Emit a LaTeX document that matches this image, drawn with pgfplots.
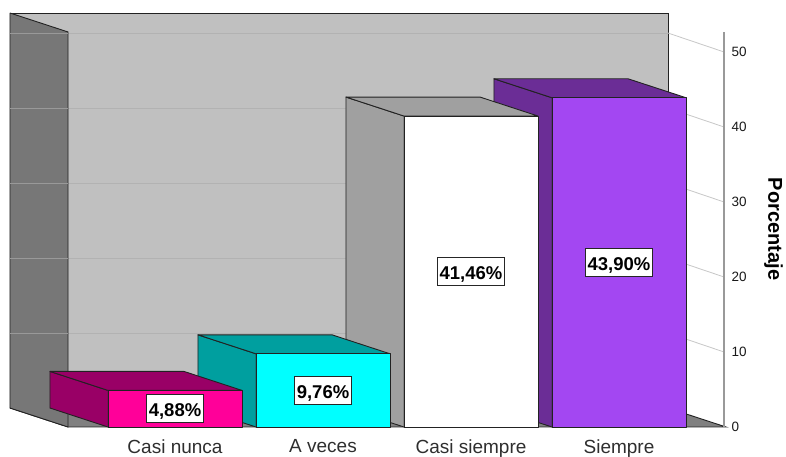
\documentclass[border=0pt]{standalone}
\usepackage{pgfplots}
\pgfplotsset{compat=1.18}
\usepackage{fontspec}
\setmainfont{Liberation Sans}
\definecolor{backwall}{HTML}{C0C0C0}
\definecolor{leftwall}{HTML}{777777}
\definecolor{floorc}{HTML}{808080}
\definecolor{edgec}{HTML}{222222}
\definecolor{pinkF}{HTML}{FF0099}
\definecolor{pinkS}{HTML}{990066}
\definecolor{cyanF}{HTML}{00FFFF}
\definecolor{cyanS}{HTML}{009F9F}
\definecolor{whiteF}{HTML}{FFFFFF}
\definecolor{whiteS}{HTML}{A0A0A0}
\definecolor{purpF}{HTML}{A347F2}
\definecolor{purpS}{HTML}{6B2D96}
\newcommand{\hw}{0.453}
\newcommand{\ddx}{0.392}
\newcommand{\ddy}{2.53}
\newcommand{\threedbar}[4]{%
  \pgfmathsetmacro\xl{#1-\hw}%
  \pgfmathsetmacro\xr{#1+\hw}%
  \pgfmathsetmacro\xlb{#1-\hw-\ddx}%
  \pgfmathsetmacro\xrb{#1+\hw-\ddx}%
  \pgfmathsetmacro\vt{#2+\ddy}%
  \addplot[fill=#4, draw=edgec, line width=0.9pt, line join=round] coordinates {(\xl,0) (\xl,#2) (\xlb,\vt) (\xlb,\ddy) (\xl,0)};
  \addplot[fill=#4, draw=edgec, line width=0.9pt, line join=round] coordinates {(\xl,#2) (\xr,#2) (\xrb,\vt) (\xlb,\vt) (\xl,#2)};
  \addplot[fill=#3, draw=edgec, line width=0.9pt, line join=round] coordinates {(\xl,0) (\xr,0) (\xr,#2) (\xl,#2) (\xl,0)};
}
\begin{document}
\begin{tikzpicture}
\useasboundingbox (0,0) rectangle (786pt,457pt);
\begin{axis}[
  at={(10pt,30pt)}, anchor=south west,
  scale only axis, width=716pt, height=414pt,
  xmin=-1.115, xmax=3.723, ymin=0, ymax=55.2,
  clip=false,
  axis x line*=bottom, axis y line*=right,
  x axis line style={draw=none}, y axis line style={draw=none},
  major tick length=0pt,
  xtick={0,1,2,3},
  xticklabels={Casi nunca, A veces, Casi siempre, Siempre},
  xticklabel style={font=\fontsize{19}{22}\selectfont, text=black!82, yshift=-9pt},
  ytick={0,10,20,30,40,50},
  yticklabel style={font=\fontsize{13.5}{15}\selectfont, text=black!90, xshift=2pt},
  /pgf/number format/assume math mode=true,
]
% back wall
\addplot[fill=backwall, draw=edgec, line width=0.9pt] coordinates {(-1.115,2.53) (3.331,2.53) (3.331,55.2) (-1.115,55.2)};
% grid on back wall
\draw[color=black!30, line width=0.8pt] (axis cs:-0.723,12.53) -- (axis cs:3.331,12.53);
\draw[color=black!30, line width=0.8pt] (axis cs:-0.723,22.53) -- (axis cs:3.331,22.53);
\draw[color=black!30, line width=0.8pt] (axis cs:-0.723,32.53) -- (axis cs:3.331,32.53);
\draw[color=black!30, line width=0.8pt] (axis cs:-0.723,42.53) -- (axis cs:3.331,42.53);
\draw[color=black!30, line width=0.8pt] (axis cs:-0.723,52.53) -- (axis cs:3.331,52.53);
% floor
\addplot[fill=floorc, draw=edgec, line width=0.9pt] coordinates {(-1.115,2.53) (3.331,2.53) (3.723,0) (-0.723,0) (-1.115,2.53)};
% left wall
\addplot[fill=leftwall, draw=edgec, line width=0.9pt] coordinates {(-1.115,55.2) (-0.723,52.67) (-0.723,0) (-1.115,2.53) (-1.115,55.2)};
\draw[color=black!40, line width=0.8pt] (axis cs:-1.115,12.53) -- (axis cs:-0.723,12.53);
\draw[color=black!40, line width=0.8pt] (axis cs:-1.115,22.53) -- (axis cs:-0.723,22.53);
\draw[color=black!40, line width=0.8pt] (axis cs:-1.115,32.53) -- (axis cs:-0.723,32.53);
\draw[color=black!40, line width=0.8pt] (axis cs:-1.115,42.53) -- (axis cs:-0.723,42.53);
\draw[color=black!40, line width=0.8pt] (axis cs:-1.115,52.53) -- (axis cs:-0.723,52.53);
% right side guide lines
\draw[color=black!22, line width=0.8pt] (axis cs:3.331,12.53) -- (axis cs:3.71,10);
\draw[color=black!22, line width=0.8pt] (axis cs:3.331,22.53) -- (axis cs:3.71,20);
\draw[color=black!22, line width=0.8pt] (axis cs:3.331,32.53) -- (axis cs:3.71,30);
\draw[color=black!22, line width=0.8pt] (axis cs:3.331,42.53) -- (axis cs:3.71,40);
\draw[color=black!22, line width=0.8pt] (axis cs:3.331,52.53) -- (axis cs:3.71,50);
% axis line
\draw[color=black!40, line width=1.2pt] (axis cs:3.71,0) -- (axis cs:3.71,52.67);
% bars, right to left
\threedbar{3}{43.90}{purpF}{purpS}
\threedbar{2}{41.46}{whiteF}{whiteS}
\threedbar{1}{9.76}{cyanF}{cyanS}
\threedbar{0}{4.88}{pinkF}{pinkS}
% value labels
\addplot[draw=none, mark=none, nodes near coords, point meta=explicit symbolic,
  every node near coord/.append style={anchor=center, fill=white, draw=black!85, line width=1pt,
  font=\bfseries\fontsize{18.5}{21}\selectfont, inner xsep=2.2pt, inner ysep=3pt,
  text height=19pt, text depth=3pt}]
  coordinates {(0,2.44) [4,88\%] (1,4.88) [9,76\%] (2,20.73) [41,46\%] (3,21.95) [43,90\%]};
\end{axis}
\node[rotate=-90, font=\bfseries\fontsize{20}{22}\selectfont] at (773.5pt,228pt) {Porcentaje};
\end{tikzpicture}
\end{document}
